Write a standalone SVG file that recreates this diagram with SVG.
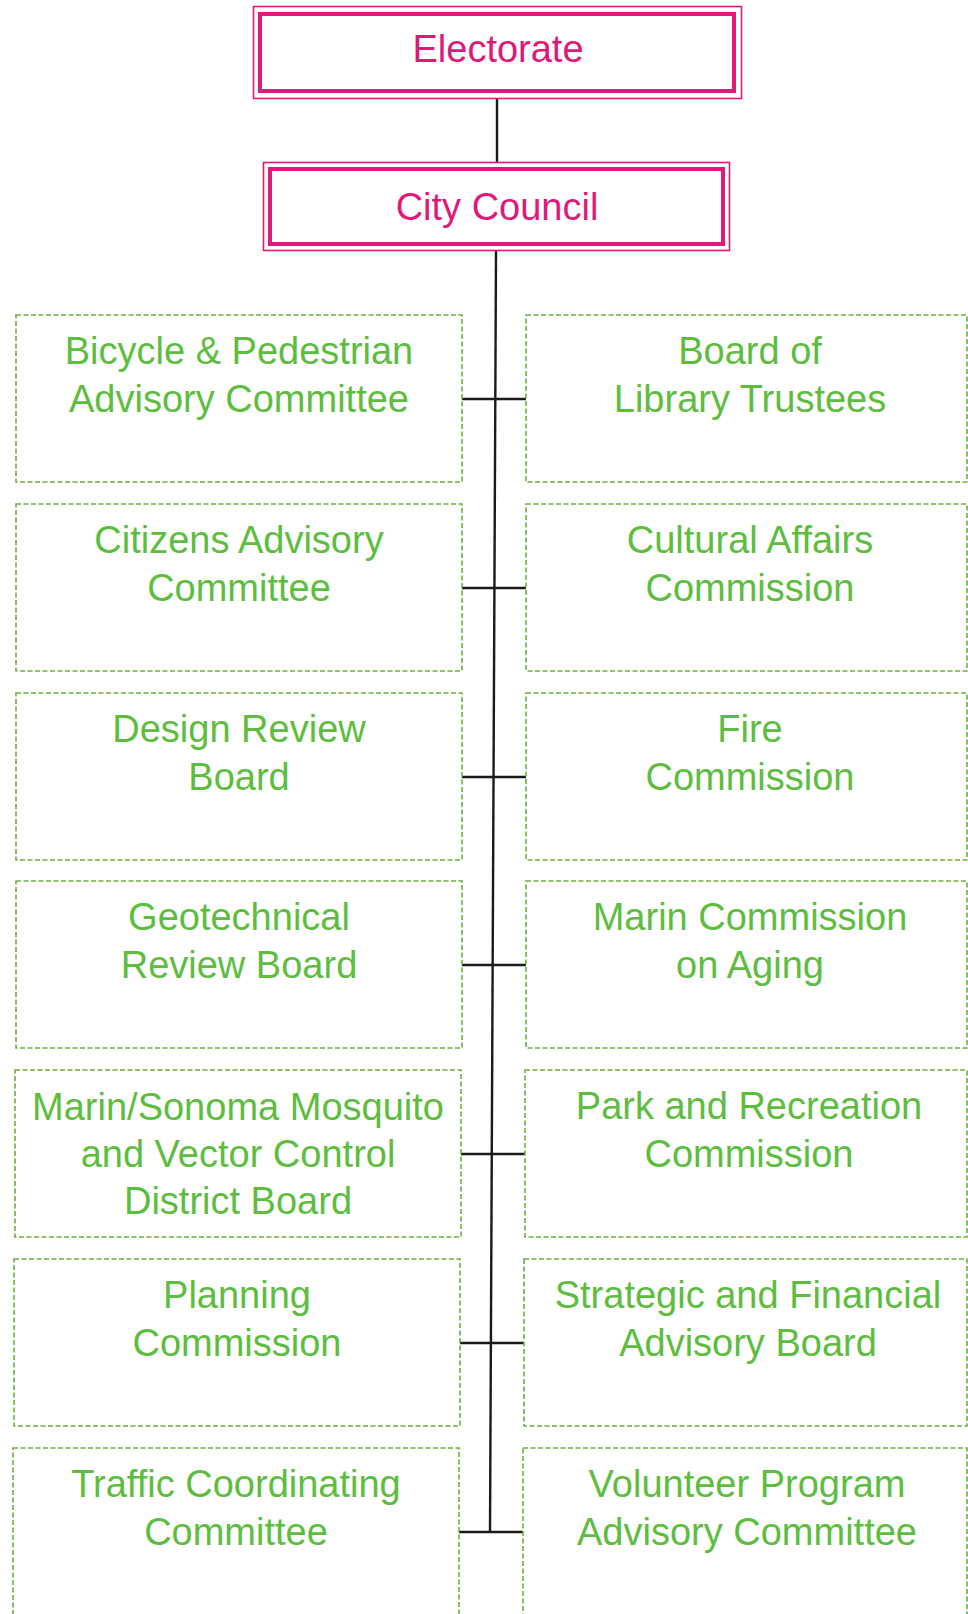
<svg xmlns="http://www.w3.org/2000/svg" width="968" height="1614" viewBox="0 0 968 1614">
<style>
  .bg{fill:#ffffff}
  .outer{fill:none;stroke:#e0187a;stroke-width:1.6}
  .inner{fill:#ffffff;stroke:#e0187a;stroke-width:4}
  .ptxt{font-family:"Liberation Sans",Arial,sans-serif;font-size:38px;fill:#e0187a;text-anchor:middle}
  .box{fill:#ffffff;stroke:#6fae3c;stroke-width:1.6;stroke-dasharray:5 2.5}
  .gtxt{font-family:"Liberation Sans",Arial,sans-serif;font-size:38px;fill:#5dbd3f;text-anchor:middle}
  .conn line{stroke:#1a1a1a;stroke-width:2.4;fill:none}
</style>
<rect class="bg" x="0" y="0" width="968" height="1614"/>
<g class="conn" id="connectors">
  <line x1="497" y1="99" x2="497" y2="163"/>
  <line x1="496" y1="251" x2="490" y2="1532"/>
  <line x1="462" y1="399" x2="526" y2="399"/>
  <line x1="462" y1="588" x2="526" y2="588"/>
  <line x1="462" y1="777" x2="526" y2="777"/>
  <line x1="462" y1="965" x2="526" y2="965"/>
  <line x1="461" y1="1154" x2="525" y2="1154"/>
  <line x1="460" y1="1343" x2="524" y2="1343"/>
  <line x1="459" y1="1532" x2="523" y2="1532"/>
</g>
<g id="electorate">
  <rect class="outer" x="253.5" y="6.5" width="488" height="92"/>
  <rect class="inner" x="260" y="14" width="474" height="77"/>
  <text class="ptxt" x="498" y="62">Electorate</text>
</g>
<g id="city-council">
  <rect class="outer" x="263.5" y="162.5" width="466" height="88"/>
  <rect class="inner" x="270" y="169" width="453" height="75"/>
  <text class="ptxt" x="497" y="220">City Council</text>
</g>
<g id="bicycle-pedestrian">
  <rect class="box" x="16" y="315" width="446" height="167"/>
  <text class="gtxt" x="239" y="364">Bicycle &amp; Pedestrian</text>
  <text class="gtxt" x="239" y="412">Advisory Committee</text>
</g>
<g id="library-trustees">
  <rect class="box" x="526" y="315" width="441" height="167"/>
  <text class="gtxt" x="750" y="364">Board of</text>
  <text class="gtxt" x="750" y="412">Library Trustees</text>
</g>
<g id="citizens-advisory">
  <rect class="box" x="16" y="504" width="446" height="167"/>
  <text class="gtxt" x="239" y="553">Citizens Advisory</text>
  <text class="gtxt" x="239" y="601">Committee</text>
</g>
<g id="cultural-affairs">
  <rect class="box" x="526" y="504" width="441" height="167"/>
  <text class="gtxt" x="750" y="553">Cultural Affairs</text>
  <text class="gtxt" x="750" y="601">Commission</text>
</g>
<g id="design-review">
  <rect class="box" x="16" y="693" width="446" height="167"/>
  <text class="gtxt" x="239" y="742">Design Review</text>
  <text class="gtxt" x="239" y="790">Board</text>
</g>
<g id="fire-commission">
  <rect class="box" x="526" y="693" width="441" height="167"/>
  <text class="gtxt" x="750" y="742">Fire</text>
  <text class="gtxt" x="750" y="790">Commission</text>
</g>
<g id="geotechnical">
  <rect class="box" x="16" y="881" width="446" height="167"/>
  <text class="gtxt" x="239" y="930">Geotechnical</text>
  <text class="gtxt" x="239" y="978">Review Board</text>
</g>
<g id="aging">
  <rect class="box" x="526" y="881" width="441" height="167"/>
  <text class="gtxt" x="750" y="930">Marin Commission</text>
  <text class="gtxt" x="750" y="978">on Aging</text>
</g>
<g id="mosquito">
  <rect class="box" x="15" y="1070" width="446" height="167"/>
  <text class="gtxt" x="238" y="1120">Marin/Sonoma Mosquito</text>
  <text class="gtxt" x="238" y="1167">and Vector Control</text>
  <text class="gtxt" x="238" y="1214">District Board</text>
</g>
<g id="park-recreation">
  <rect class="box" x="525" y="1070" width="442" height="167"/>
  <text class="gtxt" x="749" y="1119">Park and Recreation</text>
  <text class="gtxt" x="749" y="1167">Commission</text>
</g>
<g id="planning">
  <rect class="box" x="14" y="1259" width="446" height="167"/>
  <text class="gtxt" x="237" y="1308">Planning</text>
  <text class="gtxt" x="237" y="1356">Commission</text>
</g>
<g id="strategic-financial">
  <rect class="box" x="524" y="1259" width="443" height="167"/>
  <text class="gtxt" x="748" y="1308">Strategic and Financial</text>
  <text class="gtxt" x="748" y="1356">Advisory Board</text>
</g>
<g id="traffic">
  <rect class="box" x="13" y="1448" width="446" height="170"/>
  <text class="gtxt" x="236" y="1497">Traffic Coordinating</text>
  <text class="gtxt" x="236" y="1545">Committee</text>
</g>
<g id="volunteer">
  <rect class="box" x="523" y="1448" width="444" height="170"/>
  <text class="gtxt" x="747" y="1497">Volunteer Program</text>
  <text class="gtxt" x="747" y="1545">Advisory Committee</text>
</g>
</svg>
